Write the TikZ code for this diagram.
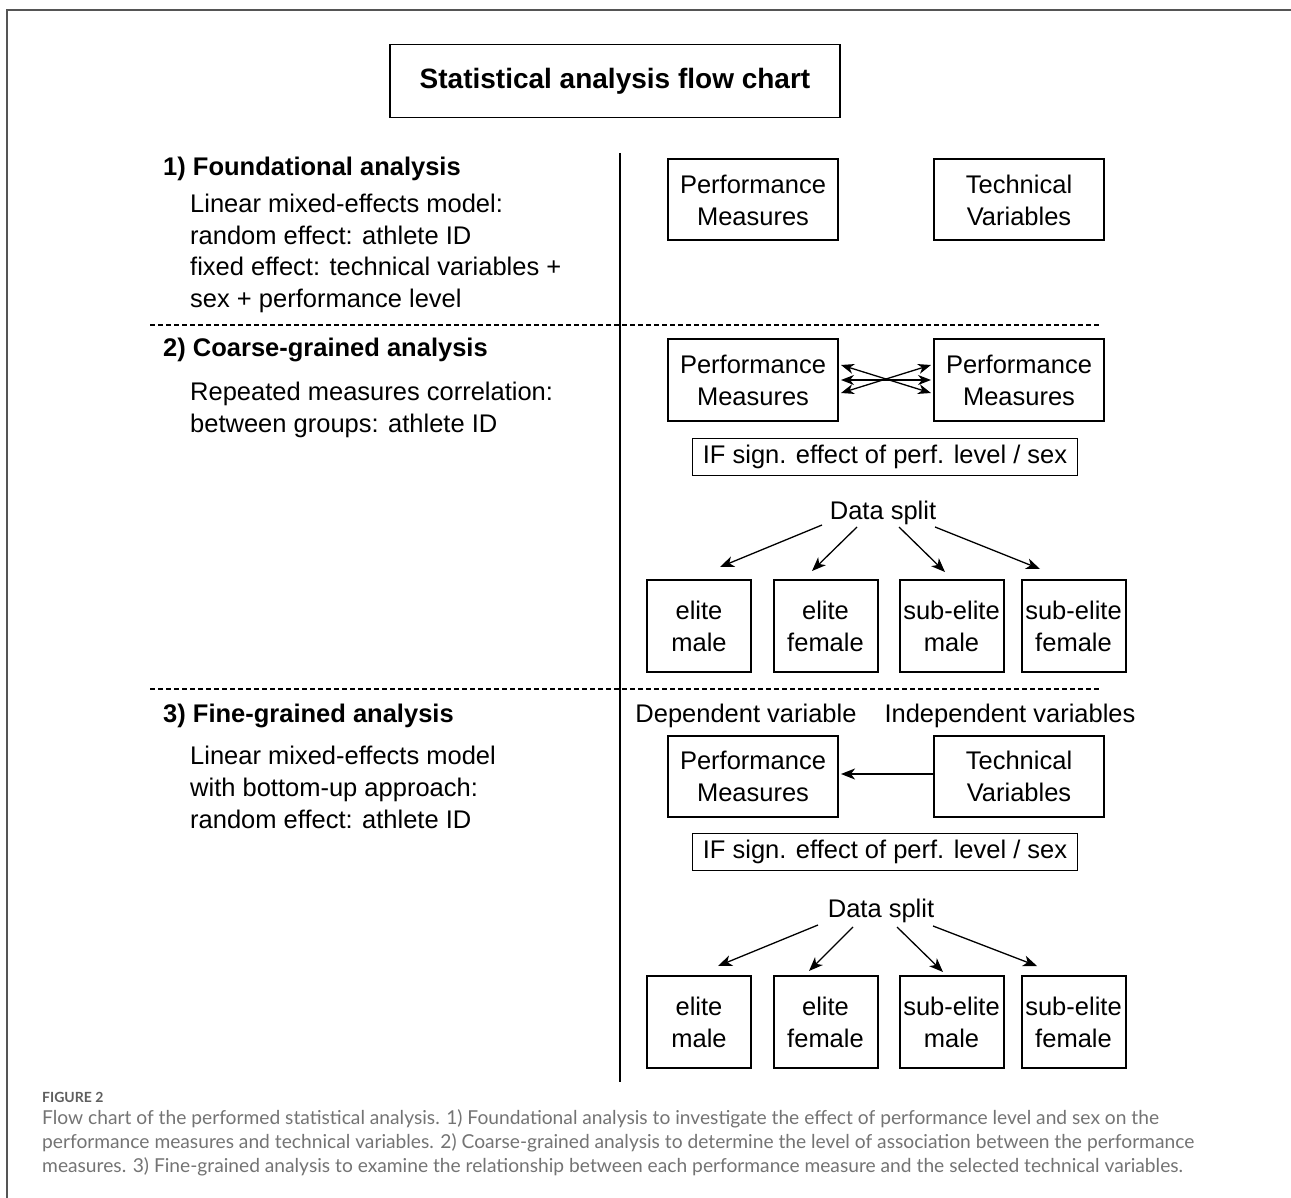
\documentclass[tikz,border=0pt]{standalone}
\usepackage{fontspec}
\setmainfont{Liberation Sans}
\newfontfamily\capfont{Lato}
\usetikzlibrary{arrows.meta,calc}
\definecolor{capgray}{HTML}{747474}
\definecolor{figgray}{HTML}{5E5E5E}
\definecolor{framegray}{HTML}{555555}
\tikzset{
  txt/.style={font=\fontsize{25.5}{31.5}\selectfont, inner sep=0pt, anchor=base west},
  ctxt/.style={font=\fontsize{25.5}{31.5}\selectfont, inner sep=0pt, anchor=base},
  head/.style={font=\bfseries\fontsize{25.5}{31.5}\selectfont, inner sep=0pt, anchor=base west},
  box/.style={draw, line width=2pt, font=\fontsize{25.5}{32}\selectfont, align=center,
              minimum width=170pt, minimum height=81pt, inner sep=0pt},
  sbox/.style={draw, line width=2pt, font=\fontsize{25.5}{32}\selectfont, align=center,
              minimum width=104pt, minimum height=92pt, inner sep=0pt},
  ifbox/.style={draw, line width=1.6pt, font=\fontsize{25.5}{32}\selectfont,
              minimum width=385pt, minimum height=37pt, inner sep=0pt},
  arr/.style={line width=1.3pt, -{Stealth[length=14pt,width=11pt,inset=4pt]}},
  darr/.style={line width=1.3pt, {Stealth[length=13pt,width=10pt,inset=4pt]}-{Stealth[length=13pt,width=10pt,inset=4pt]}},
  sep/.style={line width=1.4pt, dash pattern=on 5pt off 3pt},
  capt/.style={font=\capfont\fontsize{19.2}{24}\selectfont, text=capgray, inner sep=0pt, anchor=base west},
}
\begin{document}
\begin{tikzpicture}[x=1pt,y=-1pt]
\useasboundingbox[fill=white] (0,0) rectangle (1291,1198);
% frame
\draw[framegray, line width=1.5pt] (7,1198) -- (7,10) -- (1291,10);
% title
\node[draw, line width=1.6pt, minimum width=450pt, minimum height=73pt, inner sep=0pt,
      font=\bfseries\fontsize{28}{34}\selectfont] (title) at (615,81) {Statistical analysis flow chart};
% separators
\coordinate (vtop) at (620,153);
\coordinate (vbot) at (620,1082);
\draw[line width=1.5pt] (vtop) -- (vbot);
\coordinate (d1l) at (150,325); \coordinate (d1r) at (1100,325);
\coordinate (d2l) at (150,689); \coordinate (d2r) at (1100,689);
\draw[sep] (d1l) -- (d1r);
\draw[sep] (d2l) -- (d2r);

% left texts
\node[head] (h1) at (163,176) {1) Foundational analysis};
\node[txt] (t1a) at (190,213) {Linear mixed-effects model:};
\node[txt] (t1b) at (190,245) {random effect: athlete ID};
\node[txt] (t1c) at (190,276) {fixed effect: technical variables +};
\node[txt] (t1d) at (190,308) {sex + performance level};
\node[head] (h2) at (163,357) {2) Coarse-grained analysis};
\node[txt] (t2a) at (190,400) {Repeated measures correlation:};
\node[txt] (t2b) at (190,432) {between groups: athlete ID};
\node[head] (h3) at (163,722) {3) Fine-grained analysis};
\node[txt] (t3a) at (190,764) {Linear mixed-effects model};
\node[txt] (t3b) at (190,796) {with bottom-up approach:};
\node[txt] (t3c) at (190,828) {random effect: athlete ID};

% section 1
\node[box] (pm1) at (753,200) {Performance\\Measures};
\node[box] (tv1) at (1019,200) {Technical\\Variables};

% section 2
\node[box] (pm2) at (753,380) {Performance\\Measures};
\node[box] (pm2b) at (1019,380) {Performance\\Measures};
\draw[darr] ($(pm2.east)+(2,-15)$) -- ($(pm2b.west)+(-2,13)$);
\draw[darr] ($(pm2.east)+(2,0)$) -- ($(pm2b.west)+(-2,0)$);
\draw[darr] ($(pm2.east)+(2,13)$) -- ($(pm2b.west)+(-2,-15)$);
\node[ifbox] (if2) at (885,457) {IF sign. effect of perf. level / sex};
\node[ctxt] (ds2) at (883,519) {Data split};
\node[sbox] (em2) at (699,626) {elite\\male};
\node[sbox] (ef2) at (825.5,626) {elite\\female};
\node[sbox] (sm2) at (951.5,626) {sub-elite\\male};
\node[sbox] (sf2) at (1073.5,626) {sub-elite\\female};
\draw[arr] ($(ds2.base)+(-61,6)$) -- ($(em2.north)+(21,-12)$);
\draw[arr] ($(ds2.base)+(-26,8)$) -- ($(ef2.north)+(-13.5,-8)$);
\draw[arr] ($(ds2.base)+(16,8)$) -- ($(sm2.north)+(-6.5,-7)$);
\draw[arr] ($(ds2.base)+(52,8)$) -- ($(sf2.north)+(-33.5,-10)$);

% section 3
\node[ctxt] (dv) at (746,722) {Dependent variable};
\node[ctxt] (iv) at (1010,722) {Independent variables};
\node[box] (pm3) at (753,776) {Performance\\Measures};
\node[box] (tv3) at (1019,776) {Technical\\Variables};
\draw[arr] ($(tv3.west)+(0,-2)$) -- ($(pm3.east)+(2,-2)$);
\node[ifbox] (if3) at (885,852) {IF sign. effect of perf. level / sex};
\node[ctxt] (ds3) at (881,917) {Data split};
\node[sbox] (em3) at (699,1022) {elite\\male};
\node[sbox] (ef3) at (825.5,1022) {elite\\female};
\node[sbox] (sm3) at (951.5,1022) {sub-elite\\male};
\node[sbox] (sf3) at (1073.5,1022) {sub-elite\\female};
\draw[arr] ($(ds3.base)+(-63,8)$) -- ($(em3.north)+(19,-9)$);
\draw[arr] ($(ds3.base)+(-28,10)$) -- ($(ef3.north)+(-16.5,-4)$);
\draw[arr] ($(ds3.base)+(16,10)$) -- ($(sm3.north)+(-8.5,-3)$);
\draw[arr] ($(ds3.base)+(52,9)$) -- ($(sf3.north)+(-36.5,-9)$);

% caption
\node[inner sep=0pt, anchor=base west, text=figgray, font=\capfont\bfseries\fontsize{14}{16}\selectfont] (fig) at (42,1102) {FIGURE 2};
\node[capt] (c1) at (42,1124) {Flow chart of the performed statistical analysis. 1) Foundational analysis to investigate the effect of performance level and sex on the};
\node[capt] (c2) at (42,1148) {performance measures and technical variables. 2) Coarse-grained analysis to determine the level of association between the performance};
\node[capt] (c3) at (42,1172) {measures. 3) Fine-grained analysis to examine the relationship between each performance measure and the selected technical variables.};
\end{tikzpicture}
\end{document}
